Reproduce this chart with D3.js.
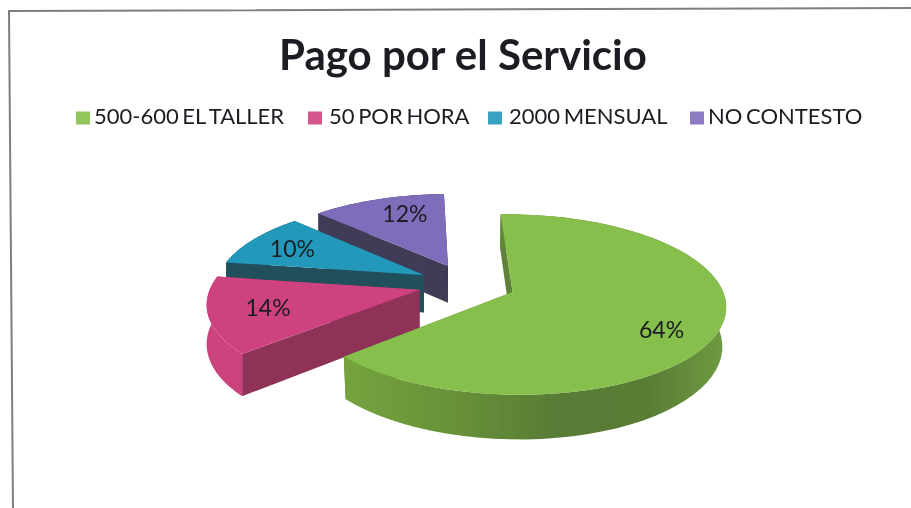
<!DOCTYPE html>
<html><head><meta charset="utf-8">
<script src="https://cdn.jsdelivr.net/npm/d3@7"></script>
<style>html,body{margin:0;padding:0;background:#fff}svg{display:block}text{font-family:Lato,"Open Sans",sans-serif;fill:#1a1d20}</style>
</head><body><svg id="c" width="911" height="508"></svg>
<script>
const title = "Pago por el Servicio";
const categories = ["500-600 EL TALLER","50 POR HORA","2000 MENSUAL","NO CONTESTO"];
const values = [64,14,10,12];
const labels = ["64%","14%","10%","12%"];
const topColors = ["#86bf4b","#cf4380","#2398bb","#7f6dbb"];
const wallColors = ["#5f8238","#8f3358","#24505c","#3f3a56"];
const outerColors = ["#668c3a","#cb427c","#24505c","#3f3a56"];

const W=911,H=508;
const cx=467,cy=284,R=208,tilt=0.415,persp=0.136,explode=49,depth=38,shrink=0.985,start=-2*Math.PI/180;
const swatchX=[76,308,488,690], legendTextX=[94,329,509,708];
const labelNudge=[[2,12],[-1,0],[-7,0],[9,-2]];
const svg=d3.select("#c");
const defs=svg.append("defs");
const blur=defs.append("filter").attr("id","soft").attr("x","-5%").attr("y","-5%").attr("width","110%").attr("height","110%");
blur.append("feGaussianBlur").attr("stdDeviation",0.6);
const wg=defs.append("linearGradient").attr("id","gw").attr("gradientUnits","userSpaceOnUse").attr("x1",346).attr("x2",725).attr("y1",0).attr("y2",0);
[[0,"#74a33d"],[0.25,"#6a9439"],[0.55,"#597c35"],[0.8,"#5a7d36"],[1,"#6f9a40"]].forEach(s=>wg.append("stop").attr("offset",s[0]).attr("stop-color",s[1]));

svg.append("path").attr("d",`M13,508L9,11L911,8`).attr("fill","none").attr("stroke","#7d7f80").attr("stroke-width",2);

const root=svg.append("g").attr("filter","url(#soft)");
root.append("text").attr("x",463).attr("y",70).attr("text-anchor","middle").attr("font-size",42).attr("font-weight",700).text(title);

const lg=root.selectAll("g.l").data(categories).join("g").attr("class","l");
lg.append("rect").attr("x",(d,i)=>swatchX[i]).attr("y",111.5).attr("width",14).attr("height",13).attr("fill",(d,i)=>topColors[i]).attr("fill-opacity",0.9);
lg.append("text").attr("x",(d,i)=>legendTextX[i]).attr("y",124).attr("font-size",22).attr("word-spacing",-2).text(d=>d);

const arcs=d3.pie().sort(null).startAngle(start).endAngle(start+2*Math.PI)(values);
arcs.forEach((d,i)=>{d.mid=(d.startAngle+d.endAngle)/2;d.shrink=i===0?shrink:1;});
const line=d3.line();
function P(a,r,d,z){
  const X=explode*Math.sin(d.mid)+r*Math.sin(a), V=-explode*Math.cos(d.mid)-r*Math.cos(a);
  const s=1/(1-persp*V/R);
  return [cx+X*s*(z?d.shrink:1), cy+V*tilt*s+(z||0)*s];
}
const steps=d=>d3.range(0,1.0001,1/60).map(t=>d.startAngle+t*(d.endAngle-d.startAngle));

[3,2,1,0].forEach(i=>{
  const d=arcs[i], g=root.append("g");
  const A=steps(d);
  const apex=P(0,0,d),apexB=P(0,0,d,depth);
  const s0=P(d.startAngle,R,d),s0B=P(d.startAngle,R,d,depth);
  const e0=P(d.endAngle,R,d),e0B=P(d.endAngle,R,d,depth);
  g.append("path").attr("d",line([apex,s0,s0B,apexB])+"Z").attr("fill",wallColors[i]);
  g.append("path").attr("d",line([apex,e0,e0B,apexB])+"Z").attr("fill",wallColors[i]);
  const outer=A.map(a=>P(a,R,d)).concat(A.slice().reverse().map(a=>P(a,R,d,depth)));
  g.append("path").attr("d",line(outer)+"Z").attr("fill",i===0?"url(#gw)":outerColors[i]);
  const top=[apex].concat(A.map(a=>P(a,R,d)));
  g.append("path").attr("d",line(top)+"Z").attr("fill",topColors[i]);
});
root.selectAll("text.v").data(arcs).join("text").attr("class","v").attr("text-anchor","middle").attr("dy",8)
  .attr("font-size",23)
  .attr("x",(d,i)=>P(d.mid,R*0.72,d)[0]+labelNudge[i][0]).attr("y",(d,i)=>P(d.mid,R*0.72,d)[1]+labelNudge[i][1]).text((d,i)=>labels[i]);
</script></body></html>
